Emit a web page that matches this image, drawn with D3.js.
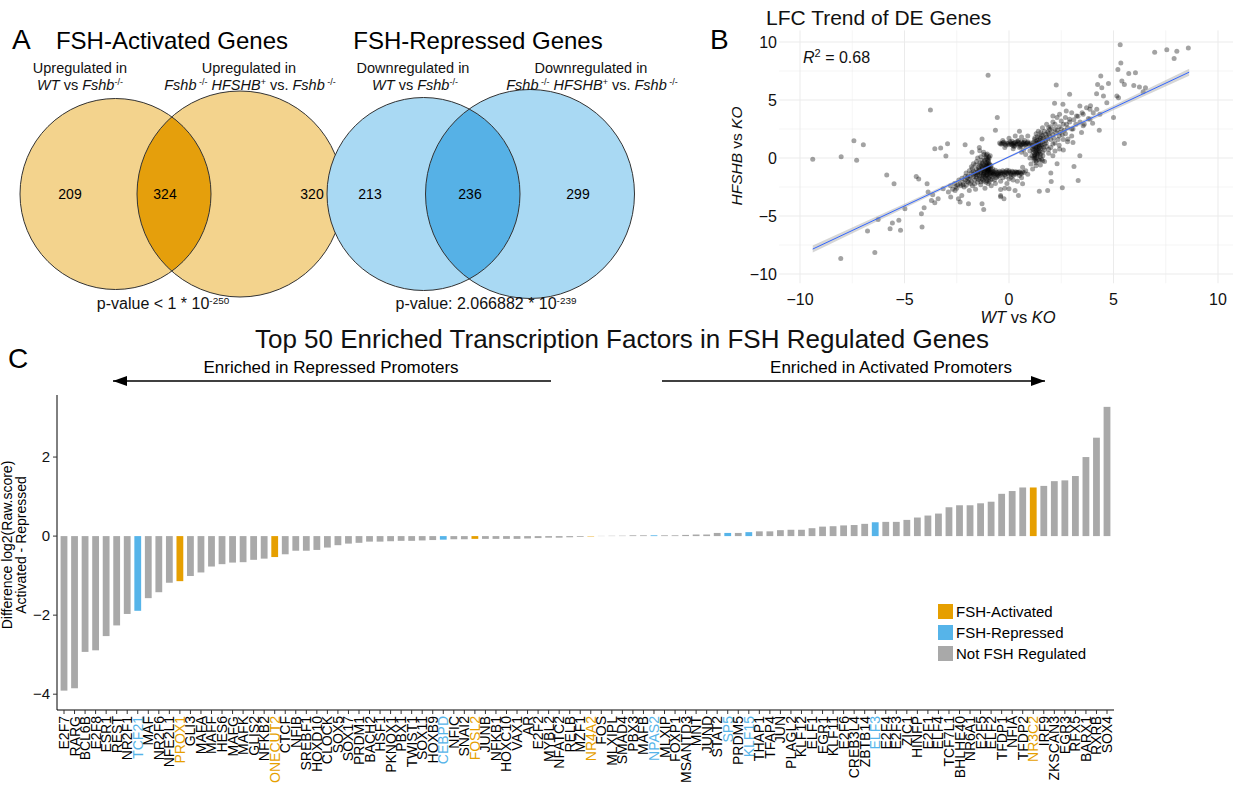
<!DOCTYPE html>
<html><head><meta charset="utf-8">
<script src="https://cdn.jsdelivr.net/npm/d3@7"></script>
<style>body{margin:0;background:#fff}svg{font-family:"Liberation Sans",Arial,Helvetica,sans-serif}</style>
</head><body><svg id="c" width="1233" height="790"></svg>
<script>
// ---------------- DATA ----------------
const vennActivated = [209, 324, 320];   // only WT, both, only HFSHB
const vennRepressed = [213, 236, 299];

const tfNames = ["E2F7","RARG","BCL6B","E2F8","ESR1","REST","NR2F1","TCF21","MAF","NR2F6",
"NFE2L1","PROX1","GLI3","MAFA","MAFF","HES6","MAFG","MAFK","GLIS2","NFKB2",
"ONECUT2","CTCF","NFIB","SREBF1","HOXD10","CLOCK","SOX5","SOX17","PRDM1","BACH2",
"HSF1","PKNOX1","PBX1","TWIST1","SOX11","HOXB9","CEBPD","NFIC","SNAI2","FOSL2",
"JUNB","NFKB1","HOXC10","VAX1","AR","E2F2","MYBL2","NFATC2","RELB","MZF1",
"NR4A2","FOS","MLXIPL","SMAD4","PBX3","MAFB","NPAS2","MLXIP","FOXP1","MSANTD3",
"MNT","JUND","STAT2","SP5","PRDM5","KLF15","THAP1","TFAP4","JUN","PLAGL2",
"KLF12","ELF1","EGR1","KLF11","E2F6","CREB3L4","ZBTB14","ELF3","E2F4","E2F3",
"ZIC1","HINFP","E2F1","ELF4","TCF7L1","BHLHE40","NR6A1","E2F5","ELF2","TFDP1",
"NFIA","TFDP2","NR3C2","IRF9","ZKSCAN3","EGR3","RFX5","BARX1","RXRB","SOX4"];
const tfDiff = [-3.91,-3.85,-2.93,-2.89,-2.53,-2.26,-1.97,-1.89,-1.57,-1.42,
-1.18,-1.14,-1.01,-0.92,-0.77,-0.71,-0.67,-0.66,-0.60,-0.57,
-0.53,-0.46,-0.37,-0.37,-0.35,-0.29,-0.23,-0.19,-0.17,-0.14,
-0.14,-0.13,-0.12,-0.12,-0.11,-0.10,-0.09,-0.08,-0.08,-0.07,
-0.07,-0.07,-0.07,-0.07,-0.06,-0.05,-0.04,-0.04,-0.03,-0.02,
-0.01,0.005,0.008,0.01,0.02,0.02,0.02,0.02,0.02,0.03,
0.04,0.04,0.08,0.08,0.08,0.10,0.12,0.12,0.15,0.16,
0.16,0.20,0.24,0.25,0.27,0.28,0.31,0.35,0.36,0.36,
0.41,0.47,0.52,0.57,0.73,0.78,0.78,0.83,0.87,1.07,
1.14,1.23,1.23,1.27,1.39,1.41,1.52,2.00,2.49,3.27];
const activatedTFs = ["PROX1","ONECUT2","FOSL2","NR4A2","NR3C2"];
const repressedTFs = ["TCF21","CEBPD","NPAS2","SP5","KLF15","ELF3"];
const barTicks = [2,0,-2,-4];
const legendLabels = ["FSH-Activated","FSH-Repressed","Not FSH Regulated"];

const scatterTicks = [-10,-5,0,5,10];
const fitX = [-9.39, 8.62];
const fitY = [-7.85, 7.4];
const r2Text = "0.68";
// log fold changes: [WT vs KO, HFSHB vs KO]
const dePoints = [
[-9.39,-0.11],[-8.03,0.11],[-7.42,1.49],[-7.29,-0.2],[-6.97,1.14],[-8.05,-8.66],[-6.42,-8.14],[-6.77,-6.29],
[-5.69,-6.09],[-5.19,-6.23],[-5.27,-5.37],[-5.58,-5.6],[-6.26,-5.31],[-4.98,-4.37],[-4.16,-5.94],[-4.19,-4.8],
[-4.06,-4.29],[-5.85,-1.46],[-5.5,-2.23],[-4.44,-1.6],[-4.32,-1.8],[-3.92,-2.23],[-3.76,4.14],[-3.55,0.8],
[-3.27,0.86],[-2.94,1.23],[-3.02,0.17],[-2.1,1.14],[-1.0,7.14],[-3.65,-3.17],[-3.55,-3.86],[-3.39,-3.51],
[-3.71,-3.66],[-3.87,-2.94],[-3.15,-2.66],[-2.9,-2.94],[-2.79,-3.37],[-2.58,-2.8],[-2.42,-3.51],[-2.26,-3.23],
[-1.94,-3.94],[-1.29,-3.94],[-1.21,-4.43],[-2.34,-3.8],[-0.4,-3.23],[-0.4,-2.71],[-0.65,2.4],[-0.56,3.49],
[-1.29,1.63],[-1.42,0.91],[-1.77,0.49],[-1.21,0.49],[-1.4,0.63],
[5.32,9.77],[6.97,9.11],[7.55,9.34],[8.03,9.2],[8.58,9.49],[7.9,8.57],[5.35,8.2],[5.21,7.63],[4.39,7.06],
[5.73,7.29],[6.05,7.34],[5.4,6.63],[5.52,6.34],[5.97,6.26],[6.24,6.11],[6.53,6.06],[6.42,5.71],[2.26,6.29],
[2.9,5.49],[4.24,6.34],[4.44,6.06],[4.76,6.43],[4.19,5.54],[4.52,5.34],[4.68,4.77],[5.16,5.34],[5.24,5.2],
[5.0,3.49],[5.52,1.26],[4.32,2.4],[3.39,0.2],[3.31,-1.94],[2.55,-2.57],[1.85,-2.8],[1.45,-2.86],[2.02,-2.03],
[3.11,-0.74],[2.18,4.71],[2.58,4.63],[3.39,4.49],[3.71,4.34],[3.87,4.2],[4.03,3.91],[3.55,3.77],[3.23,3.63],
[2.9,3.34],[3.87,3.34],[4.35,3.77],[2.74,4.06],[2.42,3.77],[2.1,3.63],[3.55,2.77],[3.06,2.49],[3.47,2.2],
[2.82,1.63],[3.06,1.34],[2.42,0.77],[2.1,0.2],[1.61,-0.23],[1.05,-0.51],[1.13,-0.94],[1.29,-0.66],[0.65,-0.8],
[0.4,-1.23],[0.45,-3.23],[0.29,-2.8],[0.65,-2.23],[0,-2.66],[-0.24,-3.51],[-0.4,-3.34],
[-1.0,-0.5],[-1.05,-0.7],[-0.95,-0.9],[-1.1,-1.0],[-1.0,-1.1],[-0.9,-1.2],[-1.15,-1.3],[-1.05,-1.4],[-0.98,-0.3],
[-1.02,-0.1],[-0.97,0.1],[-1.08,0.25],[-1.2,-0.6],[-1.25,-0.9],[-1.3,-1.1],[-1.35,-1.3],[-1.4,-1.5],[-1.2,-1.6],
[-1.1,-1.75],[-1.3,-1.8],[-1.5,-1.2],[-1.55,-1.0],[-1.6,-1.4],[-1.45,-0.8],[-1.7,-1.6],[-1.8,-1.3],[-1.65,-1.9],
[-1.9,-1.8],[-2.0,-2.0],[-1.85,-2.2],[-2.1,-1.6],[-2.2,-2.1],[-2.3,-2.4],[-2.4,-1.9],[-2.5,-2.6],[-2.6,-2.2],
[-2.15,-2.5],[-1.75,-2.4],[-1.5,-2.1],[-1.35,-2.3],[-1.2,-2.0],[-1.0,-2.2],[-0.9,-1.9],[-0.8,-1.6],[-0.85,-2.4],
[-1.15,-2.6],[-1.6,-2.7],[-1.9,-2.8],[-2.7,-2.7],[-2.8,-2.4],[-1.4,-0.4],[-1.3,-0.2],[-1.6,-0.6],[-1.75,-0.9],
[-1.9,-1.1],[-2.05,-1.3],[-1.5,0.0],[-1.2,0.3],[-0.9,0.2],[-0.93,-0.6],[-0.88,-0.8],[-1.12,-0.85],[-1.18,-1.15],
[-1.08,-1.25],[-0.96,-1.35],[-1.02,-1.5],[-1.22,-1.45],[-1.32,-0.7],[-1.42,-1.05],[-1.5,-1.45],[-1.7,-1.15],
[-1.95,-1.55],[-2.25,-1.75],[-2.35,-2.25],[-2.05,-2.35],[-1.65,-2.25],[-1.45,-1.85],[-1.25,-1.9],[-1.05,-1.95],
[-0.95,-1.65],[-0.75,-1.4],[-0.7,-1.9],[-0.65,-2.2],[-0.6,-1.7],[-1.0,-0.95],[-1.03,-1.05],[-1.07,-0.6],
[-0.99,-0.75],[-1.13,-0.45],[-1.17,-0.2],
[-1.0,-0.8],[-1.02,-0.9],[-0.98,-1.0],[-1.04,-1.2],[-0.96,-1.1],[-1.06,-0.4],[-1.0,-0.2],[-0.94,-0.5],[-1.1,-0.7],
[-1.14,-0.9],[-1.16,-1.05],[-1.2,-1.25],[-1.24,-1.4],[-1.1,-1.5],[-0.92,-1.3],[-0.88,-1.0],[-0.86,-0.65],
[-1.3,-0.95],[-1.36,-1.2],[-1.26,-0.75],[-1.2,-0.3],[-1.28,-0.5],[-1.38,-0.6],[-1.45,-0.95],[-1.52,-1.3],
[-1.58,-1.6],[-1.4,-1.7],[-1.3,-1.55],[-1.15,-1.65],[-1.0,-1.75],[-0.9,-1.5],[-1.08,-0.05],[-1.12,0.1],
[-0.95,0.0],[-1.04,0.35],[-1.35,0.1],[-1.55,-0.3],[-1.7,-0.5],[-1.8,-0.75],[-1.62,-1.25],[-1.72,-1.4],
[-1.85,-1.6],[-2.0,-1.7],[-2.1,-1.9],[-1.95,-2.1],[-1.8,-2.0],[-2.2,-2.3],[-2.45,-2.3],[-2.55,-2.45],
[-1.55,-1.75],[-1.35,-2.05],[-1.1,-2.1],[-0.95,-2.05],[-0.8,-1.8],[-0.82,-1.25],[-0.78,-0.95],
[-0.8,-1.15],[-0.7,-1.3],[-0.6,-1.2],[-0.5,-1.35],[-0.45,-1.15],[-0.35,-1.25],[-0.25,-1.3],[-0.15,-1.2],
[-0.05,-1.35],[0.05,-1.25],[0.15,-1.15],[0.25,-1.3],[0.35,-1.2],[0.45,-1.25],[0.55,-1.3],[0.65,-1.2],
[-0.75,-1.4],[-0.55,-1.45],[-0.3,-1.1],[0.0,-1.1],[0.3,-1.4],[-0.65,-1.05],[-0.4,-1.4],[-0.2,-1.45],
[0.1,-1.45],[-0.1,-1.05],[-0.55,-1.6],[-0.3,-1.7],[0.0,-1.8],[-0.1,-2.2],[0.2,-1.9],[-0.4,-2.0],[-0.2,-2.6],
[0.4,-2.0],[0.6,-1.7],[0.8,-1.1],[0.9,-1.4],
[-0.85,-1.3],[-0.72,-1.18],[-0.62,-1.35],[-0.52,-1.22],[-0.42,-1.3],[-0.32,-1.38],[-0.22,-1.18],[-0.12,-1.3],
[-0.02,-1.2],[0.08,-1.32],[0.18,-1.22],[0.28,-1.18],[0.38,-1.32],[0.5,-1.18],[0.6,-1.35],[0.72,-1.25],
[-0.68,-1.5],[-0.48,-1.55],[0.2,-1.5],[0.5,-1.5],[0.1,-1.65],[-0.15,-1.6],
[1.2,0.0],[1.25,0.2],[1.3,0.4],[1.35,0.6],[1.2,0.7],[1.4,0.8],[1.3,1.0],[1.45,1.1],[1.25,1.2],[1.5,1.3],
[1.35,1.5],[1.6,1.6],[1.45,1.8],[1.55,2.0],[1.3,2.1],[1.15,0.5],[1.1,0.9],[1.05,1.3],[1.5,0.3],[1.6,0.5],
[1.65,0.9],[1.7,1.2],[1.75,1.5],[1.8,1.8],[1.9,2.1],[1.2,-0.2],[1.3,-0.4],[1.4,-0.1],[1.5,0.1],[1.1,0.2],
[1.0,0.6],[1.38,0.25],[1.28,0.85],[1.42,1.4],[1.22,1.6],[1.58,1.15],[1.48,0.55],[1.18,1.0],[1.33,1.25],
[1.62,1.95],[1.7,2.3],[2.0,1.6],[2.1,2.0],[2.2,1.3],[2.3,2.4],[2.0,2.7],[2.4,1.9],[2.5,2.5],[2.6,2.9],
[2.2,2.9],[1.9,2.6],[1.8,1.0],[2.0,0.9],[2.2,0.6],[2.4,1.1],[2.6,1.6],[2.7,2.1],[2.8,2.6],[2.9,3.1],
[3.0,2.5],[3.1,3.3],[3.2,2.9],[3.3,3.6],[3.4,3.1],[3.5,3.9],[3.6,2.9],[3.0,3.9],[2.7,3.5],[2.5,3.2],
[2.3,3.5],[2.1,3.1],[1.8,2.9],[1.6,2.6],[3.8,3.4],[4.0,3.0],[4.2,4.2],[3.9,4.5],[2.8,1.4],[3.0,1.9],
[2.6,0.7],[1.9,0.4],[1.7,-0.3],[1.5,-0.6],[2.3,-0.5],[2.0,-1.3],[1.0,0.0],[0.8,0.3],[0.6,0.5],[0.5,0.9],
[1.22,0.3],[1.26,0.55],[1.3,0.75],[1.34,0.95],[1.38,1.15],[1.42,1.3],[1.46,1.55],[1.5,1.7],[1.28,1.45],
[1.24,1.75],[1.36,1.85],[1.4,0.45],[1.44,0.65],[1.52,0.85],[1.56,1.0],[1.6,1.4],[1.66,1.7],[1.52,2.2],
[1.4,2.3],[1.18,1.35],[1.12,1.1],[1.14,0.75],[1.2,0.15],[1.32,0.05],[1.46,-0.2],[1.56,-0.1],[1.62,0.2],
[1.7,0.7],[1.78,1.3],[1.85,1.65],[1.95,1.9],[1.75,2.05],[2.05,2.3],[2.15,1.7],[2.25,2.15],[2.35,1.6],
[2.45,2.2],[2.55,2.0],[2.65,2.4],[2.75,2.9],[2.4,2.7],[2.2,2.5],[1.95,2.45],[1.85,2.25],[2.1,1.2],[1.9,0.75],
[1.3,-0.25],[1.25,-0.05],[1.35,0.35],[1.45,0.95],
[-0.45,1.3],[-0.35,1.2],[-0.25,1.35],[-0.15,1.1],[-0.05,1.25],[0.05,1.4],[0.15,1.15],[0.25,1.3],[0.35,1.2],
[0.45,1.35],[0.55,1.1],[0.65,1.25],[0.75,1.15],[0.85,1.3],[0.95,1.2],[0.2,1.05],[0.4,1.45],[0.6,1.4],
[0.8,1.05],[0.1,1.2],[0.3,1.1],[0.7,1.35],[0.9,1.4],[-0.3,1.5],[0.0,1.7],[0.3,1.9],[0.6,1.8],[0.9,1.9],
[0.5,2.3],[0.2,0.8],[0.7,0.7],[-0.2,0.9],
[-0.4,1.2],[-0.3,1.3],[-0.2,1.2],[-0.1,1.3],[0.0,1.15],[0.1,1.3],[0.2,1.25],[0.3,1.35],[0.4,1.2],[0.5,1.25],
[0.6,1.15],[0.7,1.25],[0.8,1.2],[0.9,1.3],[1.0,1.15],[0.15,1.45],[0.45,1.5],[0.75,1.5],[0.55,1.0],[0.25,1.0]
];

// ---------------- STYLE ----------------
const ORANGE="#E69F00", BLUE="#56B4E9", GREY="#A9A9A9";
const svg = d3.select("#c");

function rich(g, x, y, segs, size, anchor){
  const t = g.append("text").attr("x",x).attr("y",y).attr("font-size",size)
    .attr("text-anchor",anchor||"middle").attr("fill","#111");
  segs.forEach(s=>{
    const ts = t.append("tspan").text(s.t);
    if(s.i) ts.attr("font-style","italic");
    if(s.sup) ts.attr("font-size",size*0.62).attr("baseline-shift","super");
  });
  return t;
}

// ---------------- PANEL A: Venn ----------------
const gA = svg.append("g");
gA.append("text").attr("x",12).attr("y",49).attr("font-size",28).text("A");

function venn(g, id, c1, c2, r1, r2, cy, light, dark, vals, lblX){
  g.append("clipPath").attr("id",id).append("circle").attr("cx",c1).attr("cy",cy).attr("r",r1);
  g.append("circle").attr("cx",c1).attr("cy",cy).attr("r",r1).attr("fill",light);
  g.append("circle").attr("cx",c2).attr("cy",cy).attr("r",r2).attr("fill",light);
  g.append("circle").attr("cx",c2).attr("cy",cy).attr("r",r2).attr("fill",dark).attr("clip-path",`url(#${id})`);
  g.append("circle").attr("cx",c1).attr("cy",cy).attr("r",r1).attr("fill","none").attr("stroke","#333").attr("stroke-width",1);
  g.append("circle").attr("cx",c2).attr("cy",cy).attr("r",r2).attr("fill","none").attr("stroke","#333").attr("stroke-width",1);
  vals.forEach((v,i)=> g.append("text").attr("x",lblX[i]).attr("y",cy+5).attr("font-size",14)
    .attr("text-anchor","middle").text(v));
}
venn(gA,"clipA",115.5,240,95.5,103,194,"#F3D38D","#E59F0C",vennActivated,[70,165,312]);
venn(gA,"clipR",423.5,530,96.5,104.5,194,"#A9D9F3","#56B1E6",vennRepressed,[370,470,578]);

gA.append("text").attr("x",172).attr("y",49).attr("font-size",24).attr("text-anchor","middle").text("FSH-Activated Genes");
gA.append("text").attr("x",478).attr("y",49).attr("font-size",24).attr("text-anchor","middle").text("FSH-Repressed Genes");

const wtSegs = [{t:"WT",i:1},{t:" vs "},{t:"Fshb",i:1},{t:"-/-",sup:1}];
const hfSegs = [{t:"Fshb",i:1},{t:" -/-",sup:1},{t:" HFSHB",i:1},{t:"+",sup:1},{t:" vs. "},{t:"Fshb",i:1},{t:" -/-",sup:1}];
const subSize = 14.5;
rich(gA,80,72.5,[{t:"Upregulated in"}],subSize);
rich(gA,80,89.5,wtSegs,subSize);
rich(gA,249,72.5,[{t:"Upregulated in"}],subSize);
rich(gA,250,89.5,hfSegs,subSize);
rich(gA,413,72.5,[{t:"Downregulated in"}],subSize);
rich(gA,415,89.5,wtSegs,subSize);
rich(gA,591,72.5,[{t:"Downregulated in"}],subSize);
rich(gA,592,89.5,hfSegs,subSize);

rich(gA,163,309,[{t:"p-value < 1 * 10"},{t:"-250",sup:1}],16);
rich(gA,486,309,[{t:"p-value: 2.066882 * 10"},{t:"-239",sup:1}],16);

// ---------------- PANEL B: scatter ----------------
const gB = svg.append("g");
const sx = d3.scaleLinear().domain([-10,10]).range([800,1218]);
const sy = d3.scaleLinear().domain([-10,10]).range([274,42]);
const gx0 = -11, gx1 = 11.5, gy0 = -10.8, gy1 = 11;
gB.selectAll(".gvx").data(d3.range(-10,12.6,2.5)).join("line")
  .attr("x1",d=>sx(d)).attr("x2",d=>sx(d)).attr("y1",sy(gy0)).attr("y2",sy(gy1))
  .attr("stroke","#EBEBEB").attr("stroke-width",d=>d%5===0?1:0.5);
gB.selectAll(".gvy").data(d3.range(-10,11,2.5)).join("line")
  .attr("y1",d=>sy(d)).attr("y2",d=>sy(d)).attr("x1",sx(gx0)).attr("x2",sx(gx1))
  .attr("stroke","#EBEBEB").attr("stroke-width",d=>d%5===0?1:0.5);
gB.selectAll(".pt").data(dePoints).join("circle")
  .attr("cx",d=>sx(d[0])).attr("cy",d=>sy(d[1])).attr("r",2.5)
  .attr("fill","#000").attr("fill-opacity",0.36);
const bandW = [0.3,0.07,0.3];
const fitMid = (fitX[0]+fitX[1])/2, fitMidY=(fitY[0]+fitY[1])/2;
const bandPts = [[fitX[0],fitY[0]+bandW[0]],[fitMid,fitMidY+bandW[1]],[fitX[1],fitY[1]+bandW[2]],
  [fitX[1],fitY[1]-bandW[2]],[fitMid,fitMidY-bandW[1]],[fitX[0],fitY[0]-bandW[0]]];
gB.append("path").attr("d",d3.line().x(d=>sx(d[0])).y(d=>sy(d[1])).curve(d3.curveLinearClosed)(bandPts))
  .attr("fill","#999").attr("fill-opacity",0.4);
gB.append("line").attr("x1",sx(fitX[0])).attr("y1",sy(fitY[0])).attr("x2",sx(fitX[1])).attr("y2",sy(fitY[1]))
  .attr("stroke","#3366FF").attr("stroke-width",1);
const fmt = d=>d<0?"\u2212"+Math.abs(d):d;
gB.selectAll(".ytl").data(scatterTicks).join("text")
  .attr("x",777).attr("y",d=>sy(d)+6).attr("text-anchor","end").attr("font-size",16).attr("fill","#111").text(fmt);
gB.selectAll(".xtl").data(scatterTicks).join("text")
  .attr("x",d=>sx(d)).attr("y",305).attr("text-anchor","middle").attr("font-size",16).attr("fill","#111").text(fmt);
rich(gB,1018,323,[{t:"WT",i:1},{t:" vs "},{t:"KO",i:1}],16.5);
rich(gB,0,0,[{t:"HFSHB",i:1},{t:" vs "},{t:"KO",i:1}],15.5).attr("transform","translate(742,156) rotate(-90)");
gB.append("text").attr("x",766).attr("y",25).attr("font-size",21).attr("fill","#111").text("LFC Trend of DE Genes");
gB.append("text").attr("x",710).attr("y",49).attr("font-size",28).text("B");
const r2 = gB.append("text").attr("x",803).attr("y",63).attr("font-size",16).attr("fill","#111");
r2.append("tspan").attr("font-style","italic").text("R");
r2.append("tspan").attr("font-size",11).attr("baseline-shift","super").text("2");
r2.append("tspan").text(" = "+r2Text);

// ---------------- PANEL C: bars ----------------
const gC = svg.append("g");
gC.append("text").attr("x",8).attr("y",368).attr("font-size",28).text("C");
gC.append("text").attr("x",622).attr("y",348).attr("font-size",26).attr("text-anchor","middle").attr("fill","#111")
  .text("Top 50 Enriched Transcription Factors in FSH Regulated Genes");
function arrow(x1,x2,y,dir){
  gC.append("line").attr("x1",x1).attr("x2",x2).attr("y1",y).attr("y2",y).attr("stroke","#000").attr("stroke-width",1.7);
  const tip = dir<0?x1:x2, b = tip - dir*14;
  gC.append("path").attr("d",`M${tip},${y}L${b},${y-5}L${b},${y+5}Z`).attr("fill","#000");
}
arrow(113,551,381,-1);
arrow(662,1045,381,1);
gC.append("text").attr("x",331).attr("y",373).attr("font-size",17).attr("text-anchor","middle").text("Enriched in Repressed Promoters");
gC.append("text").attr("x",891).attr("y",373).attr("font-size",17).attr("text-anchor","middle").text("Enriched in Activated Promoters");

const bx = d3.scalePoint().domain(tfNames).range([64,1107]);
const by = d3.scaleLinear().domain([-4.4,3.57]).range([710,395]);
const statusOf = n => activatedTFs.includes(n)?"A":repressedTFs.includes(n)?"R":"N";
const colOf = {A:ORANGE,R:BLUE,N:GREY};
const bw = 6.8;
gC.selectAll(".bar").data(tfNames).join("rect")
  .attr("x",d=>bx(d)-bw/2).attr("width",bw)
  .attr("y",(d,i)=>by(Math.max(0,tfDiff[i])))
  .attr("height",(d,i)=>Math.abs(by(tfDiff[i])-by(0)))
  .attr("fill",d=>colOf[statusOf(d)]);
gC.append("line").attr("x1",57).attr("x2",57).attr("y1",395).attr("y2",710).attr("stroke","#000").attr("stroke-width",1);
gC.append("line").attr("x1",57).attr("x2",1114).attr("y1",710).attr("y2",710).attr("stroke","#000").attr("stroke-width",1);
gC.selectAll(".yt").data(barTicks).join("line").attr("x1",53).attr("x2",57).attr("y1",d=>by(d)).attr("y2",d=>by(d)).attr("stroke","#333");
gC.selectAll(".ytl").data(barTicks).join("text").attr("x",50).attr("y",d=>by(d)+5).attr("text-anchor","end")
  .attr("font-size",15).attr("fill","#111").text(fmt);
gC.selectAll(".xt").data(tfNames).join("line").attr("x1",d=>bx(d)).attr("x2",d=>bx(d)).attr("y1",710).attr("y2",714).attr("stroke","#333");
gC.selectAll(".xtl").data(tfNames).join("text")
  .attr("transform",d=>`translate(${bx(d)+5},716) rotate(-90)`)
  .attr("text-anchor","end").attr("font-size",14).attr("fill",d=>statusOf(d)==="N"?"#000":colOf[statusOf(d)])
  .text(d=>d);
const yl = gC.append("g").attr("transform","translate(0,545) rotate(-90)");
yl.append("text").attr("x",0).attr("y",12).attr("font-size",14).attr("text-anchor","middle").text("Difference log2(Raw.score)");
yl.append("text").attr("x",0).attr("y",26).attr("font-size",14).attr("text-anchor","middle").text("Activated - Repressed");
const lg = gC.append("g");
legendLabels.forEach((l,i)=>{
  const c = [ORANGE,BLUE,GREY][i];
  lg.append("rect").attr("x",938).attr("y",604+i*21).attr("width",15).attr("height",15).attr("fill",c);
  lg.append("text").attr("x",956).attr("y",617+i*21).attr("font-size",15).text(l);
});
</script></body></html>
